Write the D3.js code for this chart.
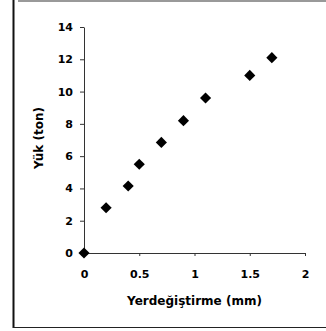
<!DOCTYPE html>
<html>
<head>
<meta charset="utf-8">
<script src="https://cdn.jsdelivr.net/npm/d3@7"></script>
<style>
  body { margin: 0; background: #fff; }
  svg text { font-family: "DejaVu Sans", sans-serif; font-weight: bold; fill: #000; }
</style>
</head>
<body>
<svg id="chart" width="326" height="331"></svg>
<script>
// displacement (mm) and load (ton)
const displacement = [0, 0.2, 0.4, 0.5, 0.7, 0.9, 1.1, 1.5, 1.7];
const load = [0, 2.8, 4.15, 5.5, 6.85, 8.2, 9.6, 11.0, 12.1];
const xTicks = [0, 0.5, 1, 1.5, 2];
const yTicks = [0, 2, 4, 6, 8, 10, 12, 14];

const margin = {left: 84, top: 27};
const plotW = 221;
const plotH = 226;

const svg = d3.select('#chart');

// frame
svg.append('line')
  .attr('x1', 18).attr('x2', 326).attr('y1', 1).attr('y2', 1)
  .attr('stroke', '#777').attr('stroke-width', 1.5);
svg.append('line')
  .attr('x1', 13.5).attr('x2', 13.5).attr('y1', 0).attr('y2', 328)
  .attr('stroke', '#111').attr('stroke-width', 2);
svg.append('line')
  .attr('x1', 13).attr('x2', 326).attr('y1', 327.5).attr('y2', 327.5)
  .attr('stroke', '#222').attr('stroke-width', 1.2);

const g = svg.append('g')
  .attr('transform', `translate(${margin.left}, ${margin.top})`);

const xScale = d3.scaleLinear().domain([0, 2]).range([0, plotW]);
const yScale = d3.scaleLinear().domain([0, 14]).range([plotH, 0]);

const xAxis = d3.axisBottom(xScale)
  .tickValues(xTicks)
  .tickSize(3)
  .tickPadding(14)
  .tickSizeOuter(0)
  .tickFormat(d => d);

const yAxis = d3.axisLeft(yScale)
  .tickValues(yTicks)
  .tickSize(4)
  .tickPadding(7)
  .tickSizeOuter(0);

const gx = g.append('g')
  .attr('transform', `translate(0, ${plotH})`)
  .call(xAxis);
const gy = g.append('g').call(yAxis);

[gx, gy].forEach(a => {
  a.selectAll('path, line').attr('stroke', '#333');
  a.selectAll('text').attr('font-size', 11);
});

// titles
g.append('text')
  .attr('x', plotW / 2)
  .attr('y', plotH + 52)
  .attr('text-anchor', 'middle')
  .attr('font-size', 12)
  .text('Yerdeğiştirme (mm)');

g.append('text')
  .attr('transform', `translate(${39 - margin.left}, ${138 - margin.top}) rotate(-90)`)
  .attr('text-anchor', 'middle')
  .attr('dy', '0.35em')
  .attr('font-size', 12)
  .text('Yük (ton)');

// markers
const diamond = d3.symbol().type(d3.symbolSquare).size(62);
g.selectAll('.pt')
  .data(displacement.map((d, i) => ({x: d, y: load[i]})))
  .enter()
  .append('path')
  .attr('class', 'pt')
  .attr('d', diamond)
  .attr('transform', d => `translate(${xScale(d.x)}, ${yScale(d.y)}) rotate(45)`)
  .attr('fill', '#000');
</script>
</body>
</html>
